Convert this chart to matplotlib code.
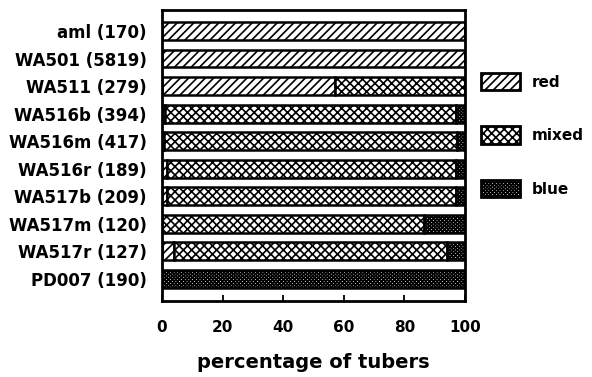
import matplotlib
matplotlib.use("Agg")
import matplotlib.pyplot as plt
import numpy as np

plt.rcParams['font.family'] = ['DejaVu Sans']
plt.rcParams['font.weight'] = 'bold'
plt.rcParams['hatch.linewidth'] = 1.2

categories = ["aml (170)", "WA501 (5819)", "WA511 (279)", "WA516b (394)", "WA516m (417)",
              "WA516r (189)", "WA517b (209)", "WA517m (120)", "WA517r (127)", "PD007 (190)"]
red = [100, 100, 57, 1, 0.5, 1.5, 1.5, 0, 4, 0]
mixed = [0, 0, 43, 96, 97, 95.5, 95.5, 86.5, 90, 0]
blue = [0, 0, 0, 3, 2.5, 3, 3, 13.5, 6, 100]
series_names = ["red", "mixed", "blue"]
xticks = [0, 20, 40, 60, 80, 100]

fig = plt.figure(figsize=(5.92, 3.77), dpi=100)
ax = fig.add_axes([162/592, 1-301/377, (465-162)/592, (301-10)/377])

y = np.arange(len(categories))
red = np.array(red); mixed = np.array(mixed); blue = np.array(blue)
h = 0.65
kw = dict(height=h, color='white', edgecolor='black', linewidth=1.8)
ax.barh(y, red, hatch='////', label=series_names[0], **kw)
ax.barh(y, mixed, left=red, hatch='xxxx', label=series_names[1], **kw)
ax.barh(y, blue, left=red+mixed, hatch='xxxxxxxxx', label=series_names[2], **kw)

ax.set_xlim(0, 100)
ax.set_ylim(len(categories)-1+0.8, -0.76)
ax.set_yticks(y)
ax.set_yticklabels(categories, fontsize=12, fontweight='bold')
ax.tick_params(axis='y', length=0, pad=11)
ax.set_xticks(xticks)
ax.set_xticklabels([str(t) for t in xticks], fontsize=11, fontweight='bold')
ax.tick_params(axis='x', direction='in', length=4, width=1.3, pad=14)
ax.set_xlabel("percentage of tubers", fontsize=14, fontweight='bold', labelpad=13)
for s in ax.spines.values():
    s.set_linewidth(2)

leg = ax.legend(loc='upper left', bbox_to_anchor=(481/592, 1-73/377),
                bbox_transform=fig.transFigure, frameon=False, borderpad=0,
                borderaxespad=0, fontsize=11, labelspacing=2.36,
                handlelength=2.55, handleheight=1.37, handletextpad=0.78)
for t in leg.get_texts():
    t.set_fontweight('bold')
for p in leg.get_patches():
    p.set_linewidth(2)

fig.savefig("out.png", dpi=100)
